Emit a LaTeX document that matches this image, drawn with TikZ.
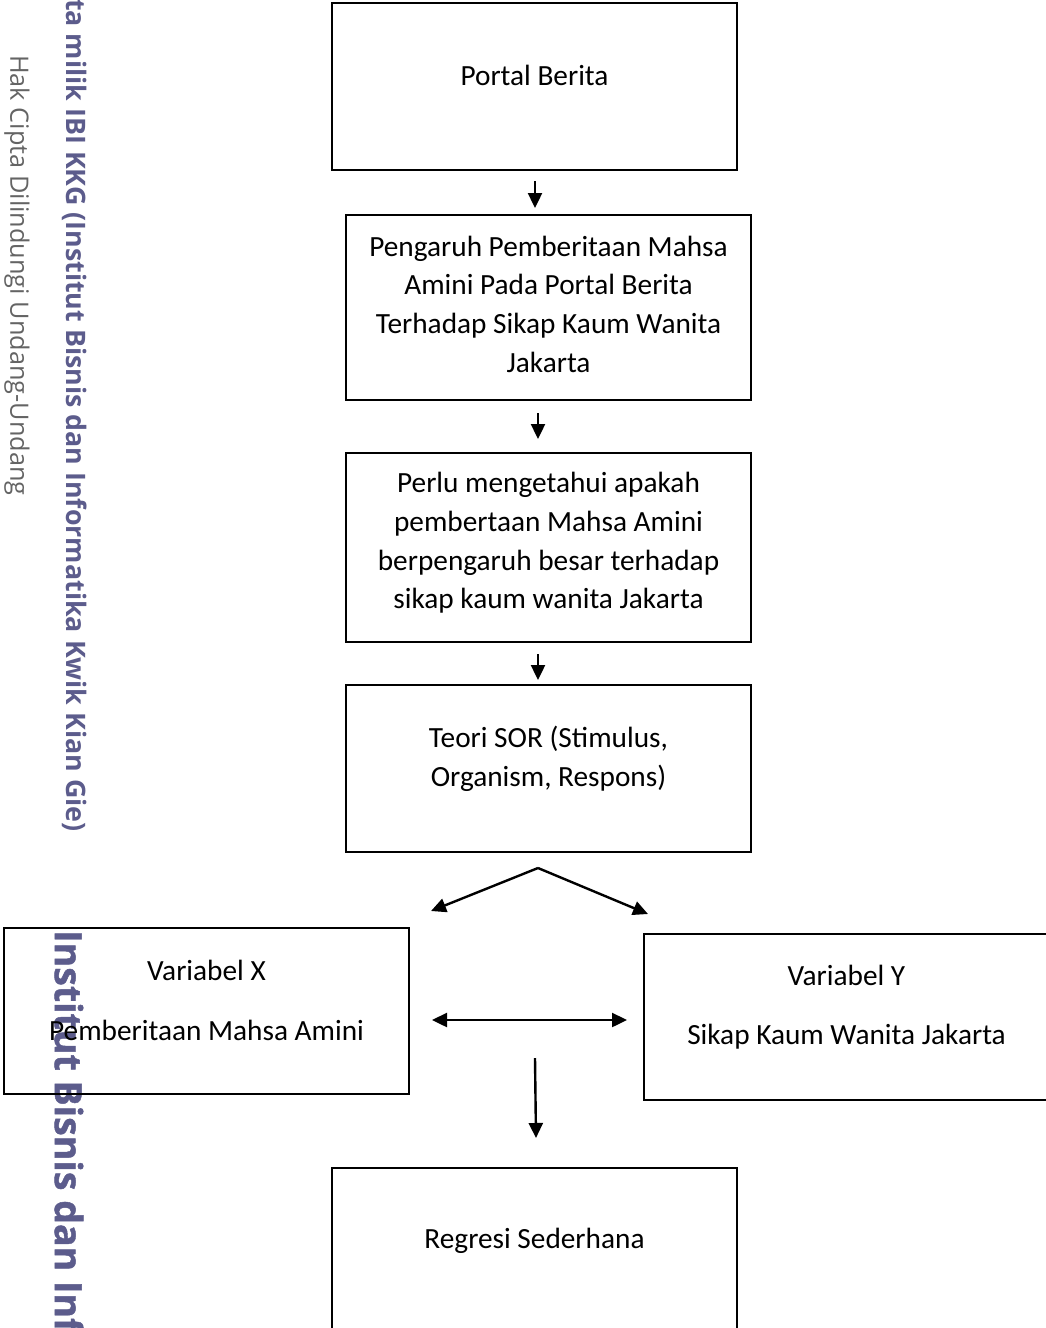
\documentclass[tikz,border=0pt]{standalone}
\usepackage{fontspec}
\setmainfont{Carlito}
\newfontfamily\wmfont{Open Sans}
\newfontfamily\wmheavy[FakeBold=1.2]{Open Sans Bold}
\usetikzlibrary{arrows.meta}
\definecolor{wmpurple}{RGB}{92,92,140}
\definecolor{wmgray}{RGB}{100,100,100}
\tikzset{
  box/.style={draw=black, line width=2.4pt, minimum width=405pt, inner sep=0pt},
  txt/.style={align=center, font=\fontsize{29.3}{38.7}\selectfont, inner sep=0pt},
  arr/.style={line width=2.4pt, -{Triangle[length=15pt,width=14pt]}},
  dbl/.style={line width=2.4pt, {Triangle[length=15pt,width=14pt]}-{Triangle[length=15pt,width=14pt]}},
  wmbold/.style={rotate=-90, anchor=west, inner sep=0pt, text=wmpurple},
}
\begin{document}
\begin{tikzpicture}[x=1pt,y=-1pt]
\useasboundingbox (0,0) rectangle (1046,1328);
% watermarks
\node[wmbold, font=\wmfont\bfseries\fontsize{26.8}{30}\selectfont] (wm1) at (75,-1) {ta milik IBI KKG (Institut Bisnis dan Informatika Kwik Kian Gie)};
\node[rotate=-90, anchor=west, inner sep=0pt, text=wmgray, font=\wmfont\fontsize{25.3}{27}\selectfont] (wm2) at (17,55) {Hak Cipta Dilindungi Undang-Undang};
\node[wmbold, font=\wmheavy\fontsize{37.5}{40}\selectfont] (wm3) at (69,930) {Institut Bisnis dan Inf};
% boxes
\node[box, minimum height=167pt] (portal) at (534.5,86.5) {};
\node[txt] (tportal) at (534.5,75) {Portal Berita};
\node[box, minimum height=185pt] (peng) at (548.5,307.5) {};
\node[txt] (tpeng) at (548.5,304) {Pengaruh Pemberitaan Mahsa\\Amini Pada Portal Berita\\Terhadap Sikap Kaum Wanita\\Jakarta};
\node[box, minimum height=189pt] (perlu) at (548.5,547.5) {};
\node[txt] (tperlu) at (548.5,543) {Perlu mengetahui apakah\\pembertaan Mahsa Amini\\berpengaruh besar terhadap\\sikap kaum wanita Jakarta};
\node[box, minimum height=167pt] (teori) at (548.5,768.5) {};
\node[txt] (tteori) at (548.5,759) {Teori SOR (Stimulus,\\Organism, Respons)};
\node[box, minimum height=166pt] (varx) at (206.5,1011) {};
\node[txt] (tvarx1) at (206.5,970) {Variabel X};
\node[txt] (tvarx2) at (206.5,1030) {Pemberitaan Mahsa Amini};
\node[box, minimum height=166pt] (vary) at (846.5,1017) {};
\node[txt] (tvary1) at (846.5,975) {Variabel Y};
\node[txt] (tvary2) at (846.5,1037) {Sikap Kaum Wanita Jakarta};
\node[box, minimum height=167pt] (regresi) at (534.5,1251.5) {};
\node[txt] (tregresi) at (534.5,1241) {Regresi Sederhana};
% connector end points
\coordinate (a1s) at (535,181);
\coordinate (a1e) at (535,208);
\coordinate (a2s) at (538,413);
\coordinate (a2e) at (538,439);
\coordinate (a3s) at (538,654);
\coordinate (a3e) at (538,680);
\coordinate (apex) at (538,868);
\coordinate (toX) at (431,911);
\coordinate (toY) at (648,914);
\coordinate (dl) at (432,1020);
\coordinate (dr) at (627,1020);
\coordinate (a4s) at (535,1058);
\coordinate (a4e) at (536,1138);
% connectors
\draw[arr] (a1s) -- (a1e);
\draw[arr] (a2s) -- (a2e);
\draw[arr] (a3s) -- (a3e);
\draw[arr] (apex) -- (toX);
\draw[arr] (apex) -- (toY);
\draw[dbl] (dl) -- (dr);
\draw[arr] (a4s) -- (a4e);
\end{tikzpicture}
\end{document}
